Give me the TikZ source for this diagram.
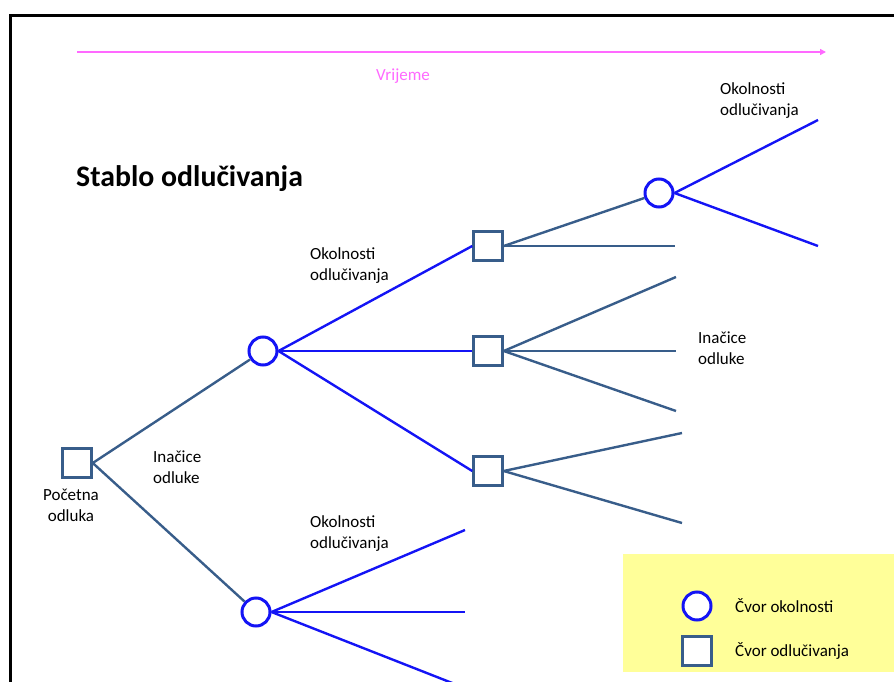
\documentclass[tikz,border=0pt]{standalone}
\usepackage{fontspec}
\setmainfont{Carlito}
\usetikzlibrary{positioning, arrows.meta}
\definecolor{chanceblue}{RGB}{20,20,245}
\definecolor{slateline}{RGB}{56,93,138}
\definecolor{timepink}{RGB}{255,105,255}
\definecolor{legendyellow}{RGB}{255,255,153}

\begin{document}
\begin{tikzpicture}
    [
        x=1pt, y=-1pt, node distance=100pt and 100pt, on grid,
        chance_node/.style={circle, draw=chanceblue, fill=white, line width=3pt, minimum size=28pt, inner sep=0pt},
        decision_node/.style={rectangle, draw=slateline, fill=white, line width=3pt, minimum size=28.5pt, inner sep=0pt},
        chance_edge/.style={line width=2.4pt, color=chanceblue},
        decision_edge/.style={line width=2.4pt, color=slateline},
        small_text/.style={font=\fontsize{17}{21}\selectfont, align=left, inner sep=0pt},
    ]
        \useasboundingbox (0,0) rectangle (894,682);
        \clip (0,0) rectangle (894,682);
        \draw[line width=3pt] (10.5,15.5) rectangle (910,700);
        % time axis
        \coordinate (time_start) at (77,52);
        \coordinate (time_end) at (826,52);
        \draw[timepink, line width=1.6pt, -{Triangle[length=6pt, width=6pt]}] (time_start) -- (time_end);
        \node[small_text, text=timepink] (time_label) at (403,76) {Vrijeme};
        \node[font=\fontsize{29.8}{34}\selectfont\bfseries, anchor=base west, inner sep=0pt] (title) at (76,186) {Stablo odlučivanja};
        % tree nodes
        \node[decision_node] (root) at (77,463) {};
        \node[chance_node] (c1) [above right = 112pt and 186pt of root] {};
        \node[chance_node] (c2) [below right = 149pt and 179pt of root] {};
        \node[decision_node] (s1) [above right = 105pt and 225pt of c1] {};
        \node[decision_node] (s2) [right = 225pt of c1] {};
        \node[decision_node] (s3) [below right = 120pt and 225pt of c1] {};
        \node[chance_node] (c3) [above right = 53pt and 171pt of s1] {};
        % free ends
        \coordinate (c3_a) at (818,120);
        \coordinate (c3_b) at (818,246);
        \coordinate (s1_a) at (675,246);
        \coordinate (s2_a) at (676,277);
        \coordinate (s2_b) at (676,351);
        \coordinate (s2_c) at (676,411);
        \coordinate (s3_a) at (682,433);
        \coordinate (s3_b) at (682,523);
        \coordinate (c2_a) at (465,530);
        \coordinate (c2_b) at (465,612);
        \coordinate (c2_c) at (470,690);
        % edges
        \draw[decision_edge] (root.east) -- (c1) ;
        \draw[decision_edge] (root.east) -- (c2) ;
        \draw[chance_edge] (c1.east) -- (s1.west) ;
        \draw[chance_edge] (c1.east) -- (s2.west) ;
        \draw[chance_edge] (c1.east) -- (s3.west) ;
        \draw[decision_edge] (s1.east) -- (c3) ;
        \draw[decision_edge] (s1.east) -- (s1_a) ;
        \draw[chance_edge] (c3.east) -- (c3_a) ;
        \draw[chance_edge] (c3.east) -- (c3_b) ;
        \draw[decision_edge] (s2.east) -- (s2_a) ;
        \draw[decision_edge] (s2.east) -- (s2_b) ;
        \draw[decision_edge] (s2.east) -- (s2_c) ;
        \draw[decision_edge] (s3.east) -- (s3_a) ;
        \draw[decision_edge] (s3.east) -- (s3_b) ;
        \draw[chance_edge] (c2.east) -- (c2_a) ;
        \draw[chance_edge] (c2.east) -- (c2_b) ;
        \draw[chance_edge] (c2.east) -- (c2_c) ;
        % labels
        \node[small_text, align=center] (root_label) [below left = 42pt and 6pt of root] {Početna\\odluka};
        \node[small_text, anchor=west] (options_left) at (153,467) {Inačice\\odluke};
        \node[small_text, anchor=west] (states_mid) at (310,266) {Okolnosti\\odlučivanja};
        \node[small_text, anchor=west] (states_low) at (310,534) {Okolnosti\\odlučivanja};
        \node[small_text, anchor=west] (options_right) at (698,348) {Inačice\\odluke};
        \node[small_text, anchor=west] (states_top) at (720,101) {Okolnosti\\odlučivanja};
        % legend
        \fill[legendyellow] (623,554) rectangle (894,672);
        \node[chance_node] (key_chance) at (697,606) {};
        \node[decision_node] (key_decision) at (697,651) {};
        \node[small_text, anchor=west] (key_chance_text) at (735,606) {Čvor okolnosti};
        \node[small_text, anchor=west] (key_decision_text) at (735,651) {Čvor odlučivanja};
\end{tikzpicture}
\end{document}
